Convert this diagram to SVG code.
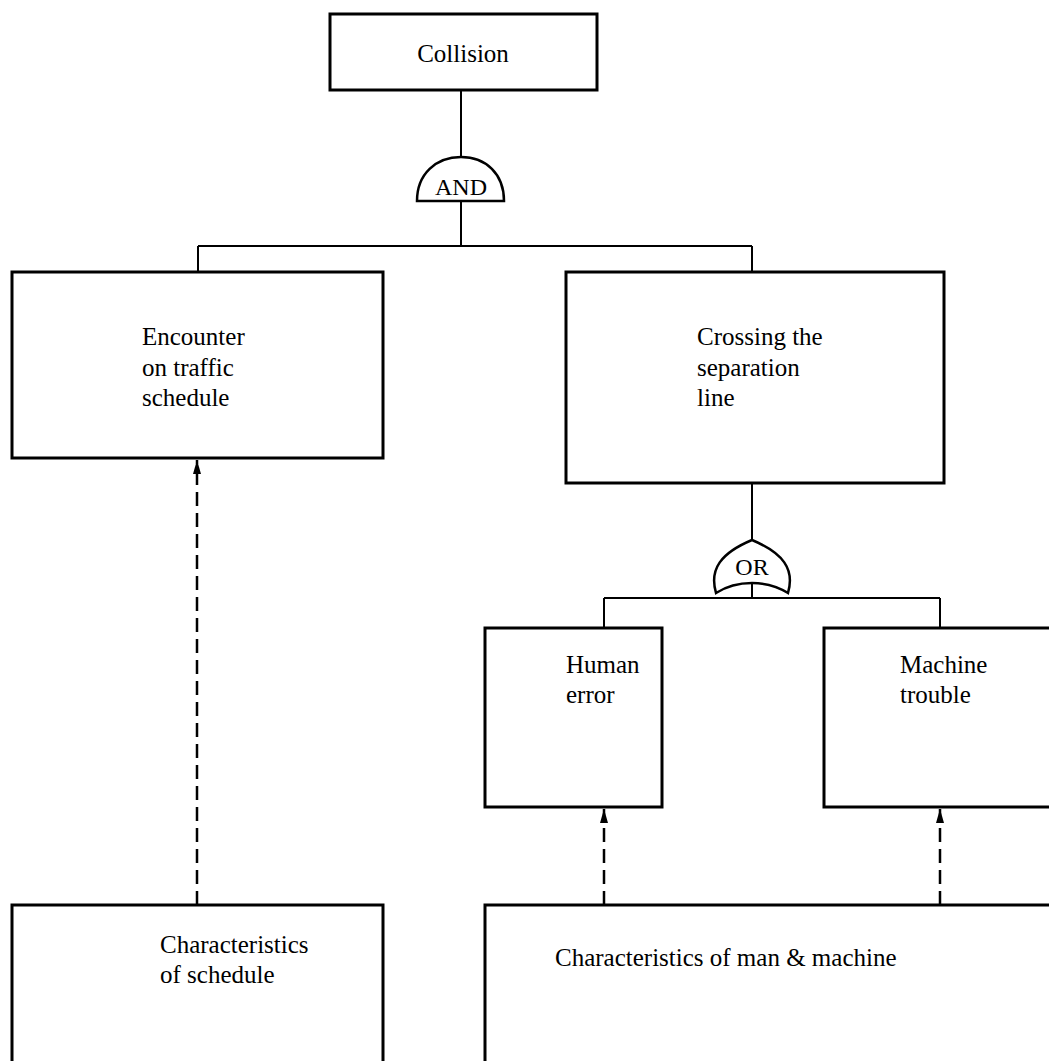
<svg xmlns="http://www.w3.org/2000/svg" width="1049" height="1061" viewBox="0 0 1049 1061">
  <style>
    .box { fill: #ffffff; stroke: #000000; stroke-width: 3; }
    .gate { fill: #ffffff; stroke: #000000; stroke-width: 2.5; }
    .wire { fill: none; stroke: #000000; stroke-width: 2; }
    .dash { fill: none; stroke: #000000; stroke-width: 2.5; stroke-dasharray: 14 7; }
    .lbl { font-family: "Liberation Serif", "Times New Roman", serif; font-size: 25px; fill: #000000; }
    .glbl { font-family: "Liberation Serif", "Times New Roman", serif; font-size: 24px; fill: #000000; text-anchor: middle; }
  </style>
  <defs>
    <!-- filled arrowhead, points along the path direction -->
    <marker id="arrow" viewBox="0 0 14 8" refX="14" refY="4" markerWidth="14" markerHeight="8" markerUnits="userSpaceOnUse" orient="auto">
      <path d="M0,0 L14,4 L0,8 Z" fill="#000000"/>
    </marker>
  </defs>

  <rect width="1049" height="1061" fill="#ffffff"/>

  <!-- connectors -->
  <g id="connectors">
    <path class="wire" d="M461,90 V158"/>
    <path class="wire" d="M461,201 V246 M198,246 H752 M198,246 V272 M752,246 V272"/>
    <path class="wire" d="M752,483 V541"/>
    <path class="wire" d="M752,583 V598 M604,598 H940 M604,598 V628 M940,598 V628"/>
    <path class="dash" d="M197,905 V460" marker-end="url(#arrow)"/>
    <path class="dash" d="M604,905 V809" marker-end="url(#arrow)"/>
    <path class="dash" d="M940,905 V809" marker-end="url(#arrow)"/>
  </g>

  <!-- top event -->
  <g id="collision">
    <rect class="box" x="330" y="14" width="267" height="76"/>
    <text class="lbl" x="463" y="62" text-anchor="middle">Collision</text>
  </g>

  <!-- AND gate -->
  <g id="and-gate">
    <path class="gate" d="M417,201 C417,174 436,157 461,157 C486,157 504,174 504,201 Z"/>
    <text class="glbl" x="461" y="195">AND</text>
  </g>

  <g id="encounter">
    <rect class="box" x="12" y="272" width="371" height="186"/>
    <text class="lbl" x="142" y="345">Encounter</text>
    <text class="lbl" x="142" y="376">on traffic</text>
    <text class="lbl" x="142" y="406">schedule</text>
  </g>

  <g id="crossing">
    <rect class="box" x="566" y="272" width="378" height="211"/>
    <text class="lbl" x="697" y="345">Crossing the</text>
    <text class="lbl" x="697" y="376">separation</text>
    <text class="lbl" x="697" y="406">line</text>
  </g>

  <!-- OR gate -->
  <g id="or-gate">
    <path class="gate" d="M716,593 C709,569 721,553 752,540 C783,553 795,569 788,593 C777,586 765,583 752,583 C739,583 727,586 716,593 Z"/>
    <text class="glbl" x="752" y="575">OR</text>
  </g>

  <g id="human-error">
    <rect class="box" x="485" y="628" width="177" height="179"/>
    <text class="lbl" x="566" y="673">Human</text>
    <text class="lbl" x="566" y="703">error</text>
  </g>

  <g id="machine-trouble">
    <rect class="box" x="824" y="628" width="240" height="179"/>
    <text class="lbl" x="900" y="673">Machine</text>
    <text class="lbl" x="900" y="703">trouble</text>
  </g>

  <g id="schedule-characteristics">
    <path class="box" d="M12,1070 V905 H383 V1070"/>
    <text class="lbl" x="160" y="953">Characteristics</text>
    <text class="lbl" x="160" y="983">of schedule</text>
  </g>

  <g id="man-machine-characteristics">
    <path class="box" d="M485,1070 V905 H1060"/>
    <text class="lbl" x="555" y="966">Characteristics of man &amp; machine</text>
  </g>
</svg>
